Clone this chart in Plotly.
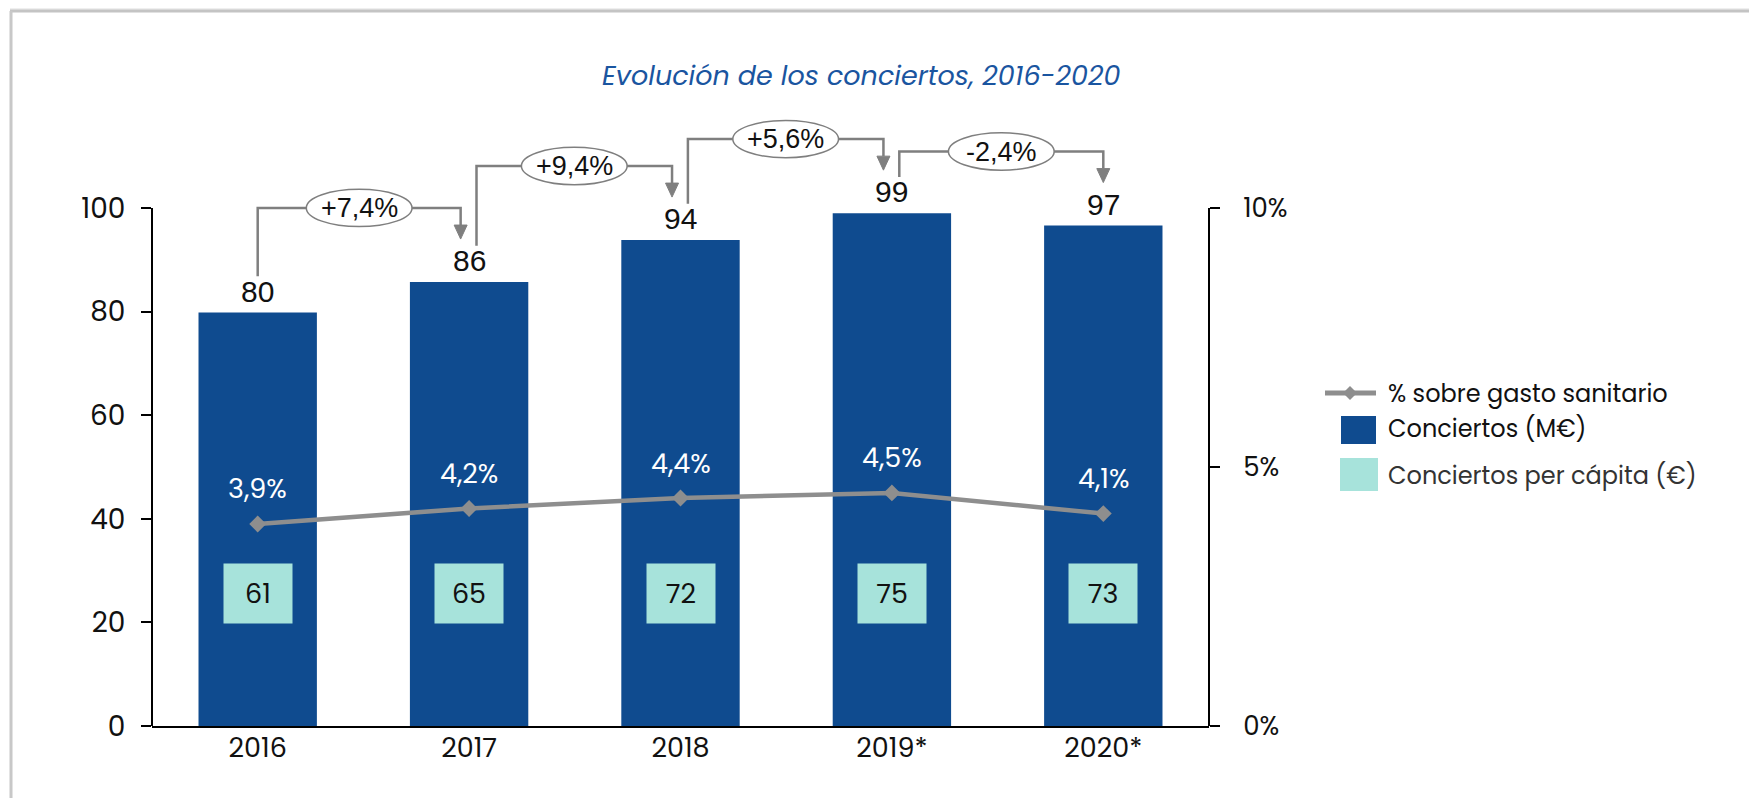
import plotly.graph_objects as go

# ---------------- data ----------------
years = ["2016", "2017", "2018", "2019*", "2020*"]
conciertos = [79.8, 85.7, 93.8, 99.0, 96.6]          # M€
conciertos_labels = ["80", "86", "94", "99", "97"]
per_capita = [61, 65, 72, 75, 73]                      # €
pct_gasto = [3.9, 4.2, 4.4, 4.5, 4.1]                  # % sobre gasto sanitario
pct_labels = ["3,9%", "4,2%", "4,4%", "4,5%", "4,1%"]
var_labels = ["+7,4%", "+9,4%", "+5,6%", "-2,4%"]
y_ticks = [0, 20, 40, 60, 80, 100]
y2_ticks = [0, 5, 10]
y2_ticktext = ["0%", "5%", "10%"]

# ---------------- style ----------------
BLUE = "#0f4b8f"
TEAL = "#a7e3db"
GRAY_LINE = "#8e8e8e"
GRAY_BR = "#7f7f7f"
FONT = 'Poppins, "Open Sans", sans-serif'
ARIAL = 'Arial, "Liberation Sans", sans-serif'

OFF = 8                      # page body margin
W, H = 1757 - OFF, 798 - OFF
L, R, T, B = 152 - OFF, 548, 94 - OFF, 72
PW, PH = W - L - R, H - T - B
YMAX = 122.0


def px(p):
    """screen x pixel -> paper x"""
    return (p - OFF - L) / PW


def py(p):
    """screen y pixel -> paper y"""
    return (H - B - (p - OFF)) / PH


x = list(range(len(years)))

fig = go.Figure()

fig.add_trace(go.Bar(
    x=x, y=conciertos, marker_color=BLUE, width=0.56,
    marker_line_width=0, showlegend=False, hoverinfo="skip",
))

fig.add_trace(go.Scatter(
    x=x, y=pct_gasto, yaxis="y2", mode="lines+markers",
    line=dict(color=GRAY_LINE, width=4.5),
    marker=dict(symbol="diamond", size=13, color=GRAY_LINE),
    showlegend=False, hoverinfo="skip",
))

annotations = []
shapes = []

# bar value labels
for i, v in enumerate(conciertos):
    annotations.append(dict(
        x=i, y=v, xref="x", yref="y", text=conciertos_labels[i],
        showarrow=False, yanchor="bottom", yshift=3,
        font=dict(family=ARIAL, size=30, color="#111111"),
    ))

# percentage labels (white, above points)
for i, v in enumerate(pct_gasto):
    annotations.append(dict(
        x=i, y=v, xref="x", yref="y2", text=pct_labels[i],
        showarrow=False, yanchor="middle", yshift=35,
        font=dict(family=FONT, size=27, color="white"),
    ))

# per capita boxes
for i, v in enumerate(per_capita):
    annotations.append(dict(
        x=i, y=25.6, xref="x", yref="y", text=str(v),
        showarrow=False, bgcolor=TEAL, width=68, height=59,
        borderpad=0, align="center", valign="middle",
        font=dict(family=FONT, size=27, color="#111111"),
    ))

# variation brackets
n = len(conciertos)
for i in range(n - 1):
    sx = i + (0.035 if i > 0 else 0.0)
    tx = (i + 1) - (0.04 if i + 1 < n - 1 else 0.0)
    sy = conciertos[i] + 7.0
    hy = conciertos[i + 1] + 14.3
    ty = conciertos[i + 1] + 8.3
    head_h = 14 / (PH / YMAX)
    head_w = 6.5 / (PW / len(years))
    shapes.append(dict(
        type="path", xref="x", yref="y",
        path=f"M {sx},{sy} L {sx},{hy} L {tx},{hy} L {tx},{ty + head_h}",
        line=dict(color=GRAY_BR, width=2.5), layer="above",
    ))
    shapes.append(dict(
        type="path", xref="x", yref="y",
        path=f"M {tx - head_w},{ty + head_h} L {tx + head_w},{ty + head_h} L {tx},{ty} Z",
        fillcolor=GRAY_BR, line=dict(color=GRAY_BR, width=1), layer="above",
    ))
    cx = (sx + tx) / 2
    shapes.append(dict(
        type="circle", xref="x", yref="y",
        x0=cx - 0.25, x1=cx + 0.25, y0=hy - 3.6, y1=hy + 3.6,
        fillcolor="white", line=dict(color=GRAY_BR, width=1.5), layer="above",
    ))
    annotations.append(dict(
        x=cx, y=hy, xref="x", yref="y", text=var_labels[i], showarrow=False,
        font=dict(family=ARIAL, size=27, color="#111111"),
    ))

# left axis spine (0-100) and right axis spine (0-10%)
shapes.append(dict(type="line", xref="paper", yref="y", x0=0, x1=0, y0=0, y1=100,
                   line=dict(color="black", width=2)))
shapes.append(dict(type="line", xref="paper", yref="y", x0=1, x1=1, y0=0, y1=100,
                   line=dict(color="black", width=2)))

# title
annotations.append(dict(
    xref="paper", yref="paper", x=px(861), y=py(75), xanchor="center", yanchor="middle",
    text="Evolución de los conciertos, 2016-2020",
    showarrow=False, font=dict(family=FONT, size=27, color="#1a55a0", style="italic"),
))

# custom legend
leg_x_text = px(1386)
shapes.append(dict(type="line", xref="paper", yref="paper", x0=px(1325), x1=px(1376),
                   y0=py(393), y1=py(393), line=dict(color=GRAY_LINE, width=5)))
shapes.append(dict(type="path", xref="paper", yref="paper",
                   path=f"M {px(1350)},{py(386)} L {px(1357)},{py(393)} L {px(1350)},{py(400)} L {px(1343)},{py(393)} Z",
                   fillcolor=GRAY_LINE, line=dict(width=0)))
shapes.append(dict(type="rect", xref="paper", yref="paper", x0=px(1341), x1=px(1376),
                   y0=py(444), y1=py(416), fillcolor=BLUE, line=dict(width=0)))
shapes.append(dict(type="rect", xref="paper", yref="paper", x0=px(1340), x1=px(1378),
                   y0=py(491), y1=py(458), fillcolor=TEAL, line=dict(width=0)))
legend_items = [("% sobre gasto sanitario", 393, "#111111"),
                ("Conciertos (M€)", 429, "#111111"),
                ("Conciertos per cápita (€)", 475, "#333333")]
for txt, yy, col in legend_items:
    annotations.append(dict(
        xref="paper", yref="paper", x=leg_x_text, y=py(yy), text=txt,
        showarrow=False, xanchor="left", yanchor="middle",
        font=dict(family=FONT, size=24, color=col),
    ))

# frame with top shadow
shapes.append(dict(type="rect", xref="paper", yref="paper",
                   x0=px(10), x1=px(1757), y0=py(11), y1=py(8),
                   fillcolor="rgba(150,150,150,0.15)", line=dict(width=0)))
shapes.append(dict(type="line", xref="paper", yref="paper", x0=px(10), x1=px(1757),
                   y0=py(11), y1=py(11), line=dict(color="#c4c4c4", width=3)))
shapes.append(dict(type="line", xref="paper", yref="paper", x0=px(11), x1=px(11),
                   y0=py(11), y1=py(800), line=dict(color="#c8c8c8", width=3)))
shapes.append(dict(type="line", xref="paper", yref="paper", x0=px(1755.5), x1=px(1755.5),
                   y0=py(11), y1=py(800), line=dict(color="#c0c0c0", width=3)))

fig.update_layout(
    width=W, height=H,
    margin=dict(l=L, r=R, t=T, b=B),
    paper_bgcolor="white", plot_bgcolor="white",
    showlegend=False,
    xaxis=dict(
        range=[-0.5, len(years) - 0.5], tickvals=x, ticktext=years,
        showline=True, linecolor="black", linewidth=2, ticks="",
        showgrid=False, zeroline=False,
        tickfont=dict(family=FONT, size=27, color="#111111"),
        ticklabelstandoff=-3,
    ),
    yaxis=dict(
        range=[0, YMAX], tickvals=y_ticks, showline=False, ticks="outside",
        ticklen=10, tickwidth=2, tickcolor="black", showgrid=False, zeroline=False,
        tickfont=dict(family=FONT, size=28, color="#111111"), ticklabelstandoff=10,
    ),
    yaxis2=dict(
        range=[0, YMAX / 10], tickvals=y2_ticks, ticktext=y2_ticktext, overlaying="y",
        side="right", showline=False, ticks="outside", ticklen=10, tickwidth=2,
        tickcolor="black", showgrid=False, zeroline=False,
        tickfont=dict(family=FONT, size=26, color="#111111"), ticklabelstandoff=18,
    ),
    annotations=annotations, shapes=shapes,
)

fig.write_html("out.html")
